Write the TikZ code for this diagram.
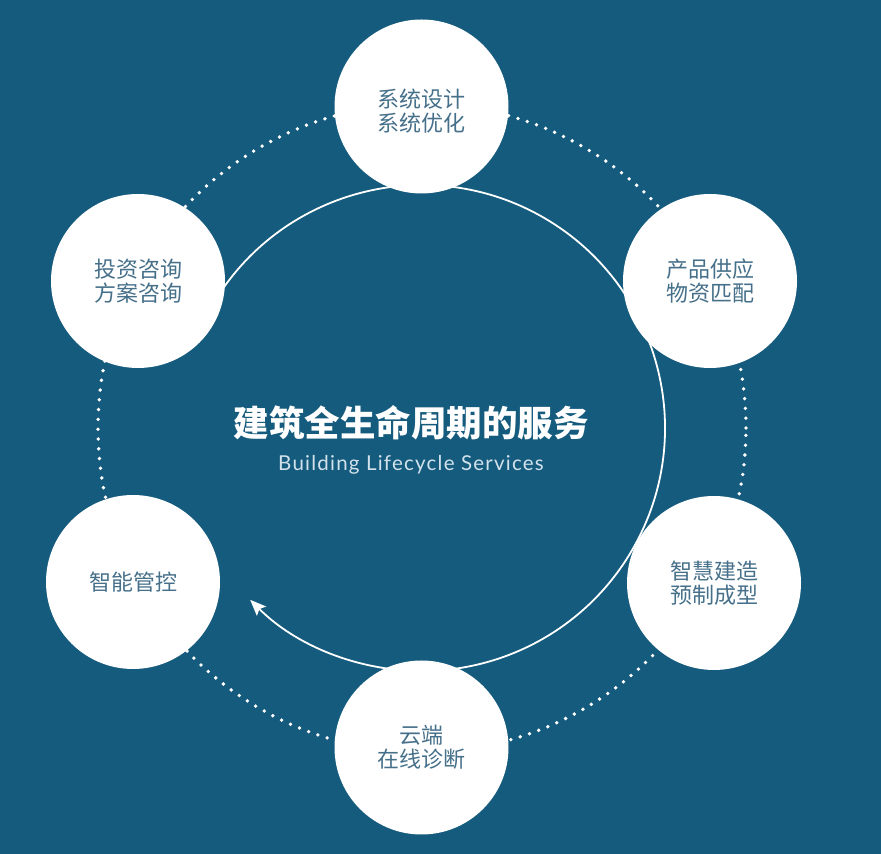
\documentclass[tikz,border=0pt]{standalone}
\usepackage{fontspec}
\newfontfamily\cjk{Noto Sans CJK SC}
\newfontfamily\latin{Lato}[LetterSpace=6]
\usetikzlibrary{arrows.meta}
\definecolor{bgblue}{HTML}{155B7D}
\definecolor{circtext}{RGB}{70,112,138}
\definecolor{subtext}{RGB}{210,226,236}
\tikzset{
  svcfont/.style={align=center, text=circtext, font=\cjk\fontsize{22pt}{24pt}\selectfont},
  svc/.style={circle, fill=white, minimum size=174pt, inner sep=0pt, svcfont},
  dotring/.style={white, line width=3.8pt, line cap=round, dash pattern=on 0pt off 9.8pt},
  flow/.style={white, line width=1.8pt, -{Stealth[length=16pt,width=13pt,inset=3pt]}}
}
\begin{document}
\begin{tikzpicture}[x=1pt,y=1pt]
\useasboundingbox (0,0) rectangle (881,854);
\fill[bgblue] (0,0) rectangle (881,854);
\coordinate (c) at (422,426);
% dotted outer ring
\draw[dotring] (c) circle[radius=324pt];
% inner cycle arc with arrow
\draw[flow] ([shift={(150:243pt)}]c) arc[start angle=150, end angle=-135, radius=243pt];
% service circles
\node[svc, label={[svcfont, yshift=-5pt, name=toptext]center:系统设计\\系统优化}] (top) at (421.5,747.5) {};
\node[svc] (tl) at (138,573) {投资咨询\\方案咨询};
\node[svc] (tr) at (710,573) {产品供应\\物资匹配};
\node[svc] (br) at (714,271) {智慧建造\\预制成型};
\node[svc] (bot) at (421.5,106.5) {云端\\在线诊断};
\node[svc] (bl) at (133,272) {智能管控};
% titles
\node[text=white, font=\cjk\bfseries\fontsize{35.5pt}{40pt}\selectfont] (title) at (411,431) {建筑全生命周期的服务};
\node[text=subtext, font=\latin\fontsize{20.5pt}{24pt}\selectfont] (sub) at (411,389) {Building Lifecycle Services};
\end{tikzpicture}
\end{document}
